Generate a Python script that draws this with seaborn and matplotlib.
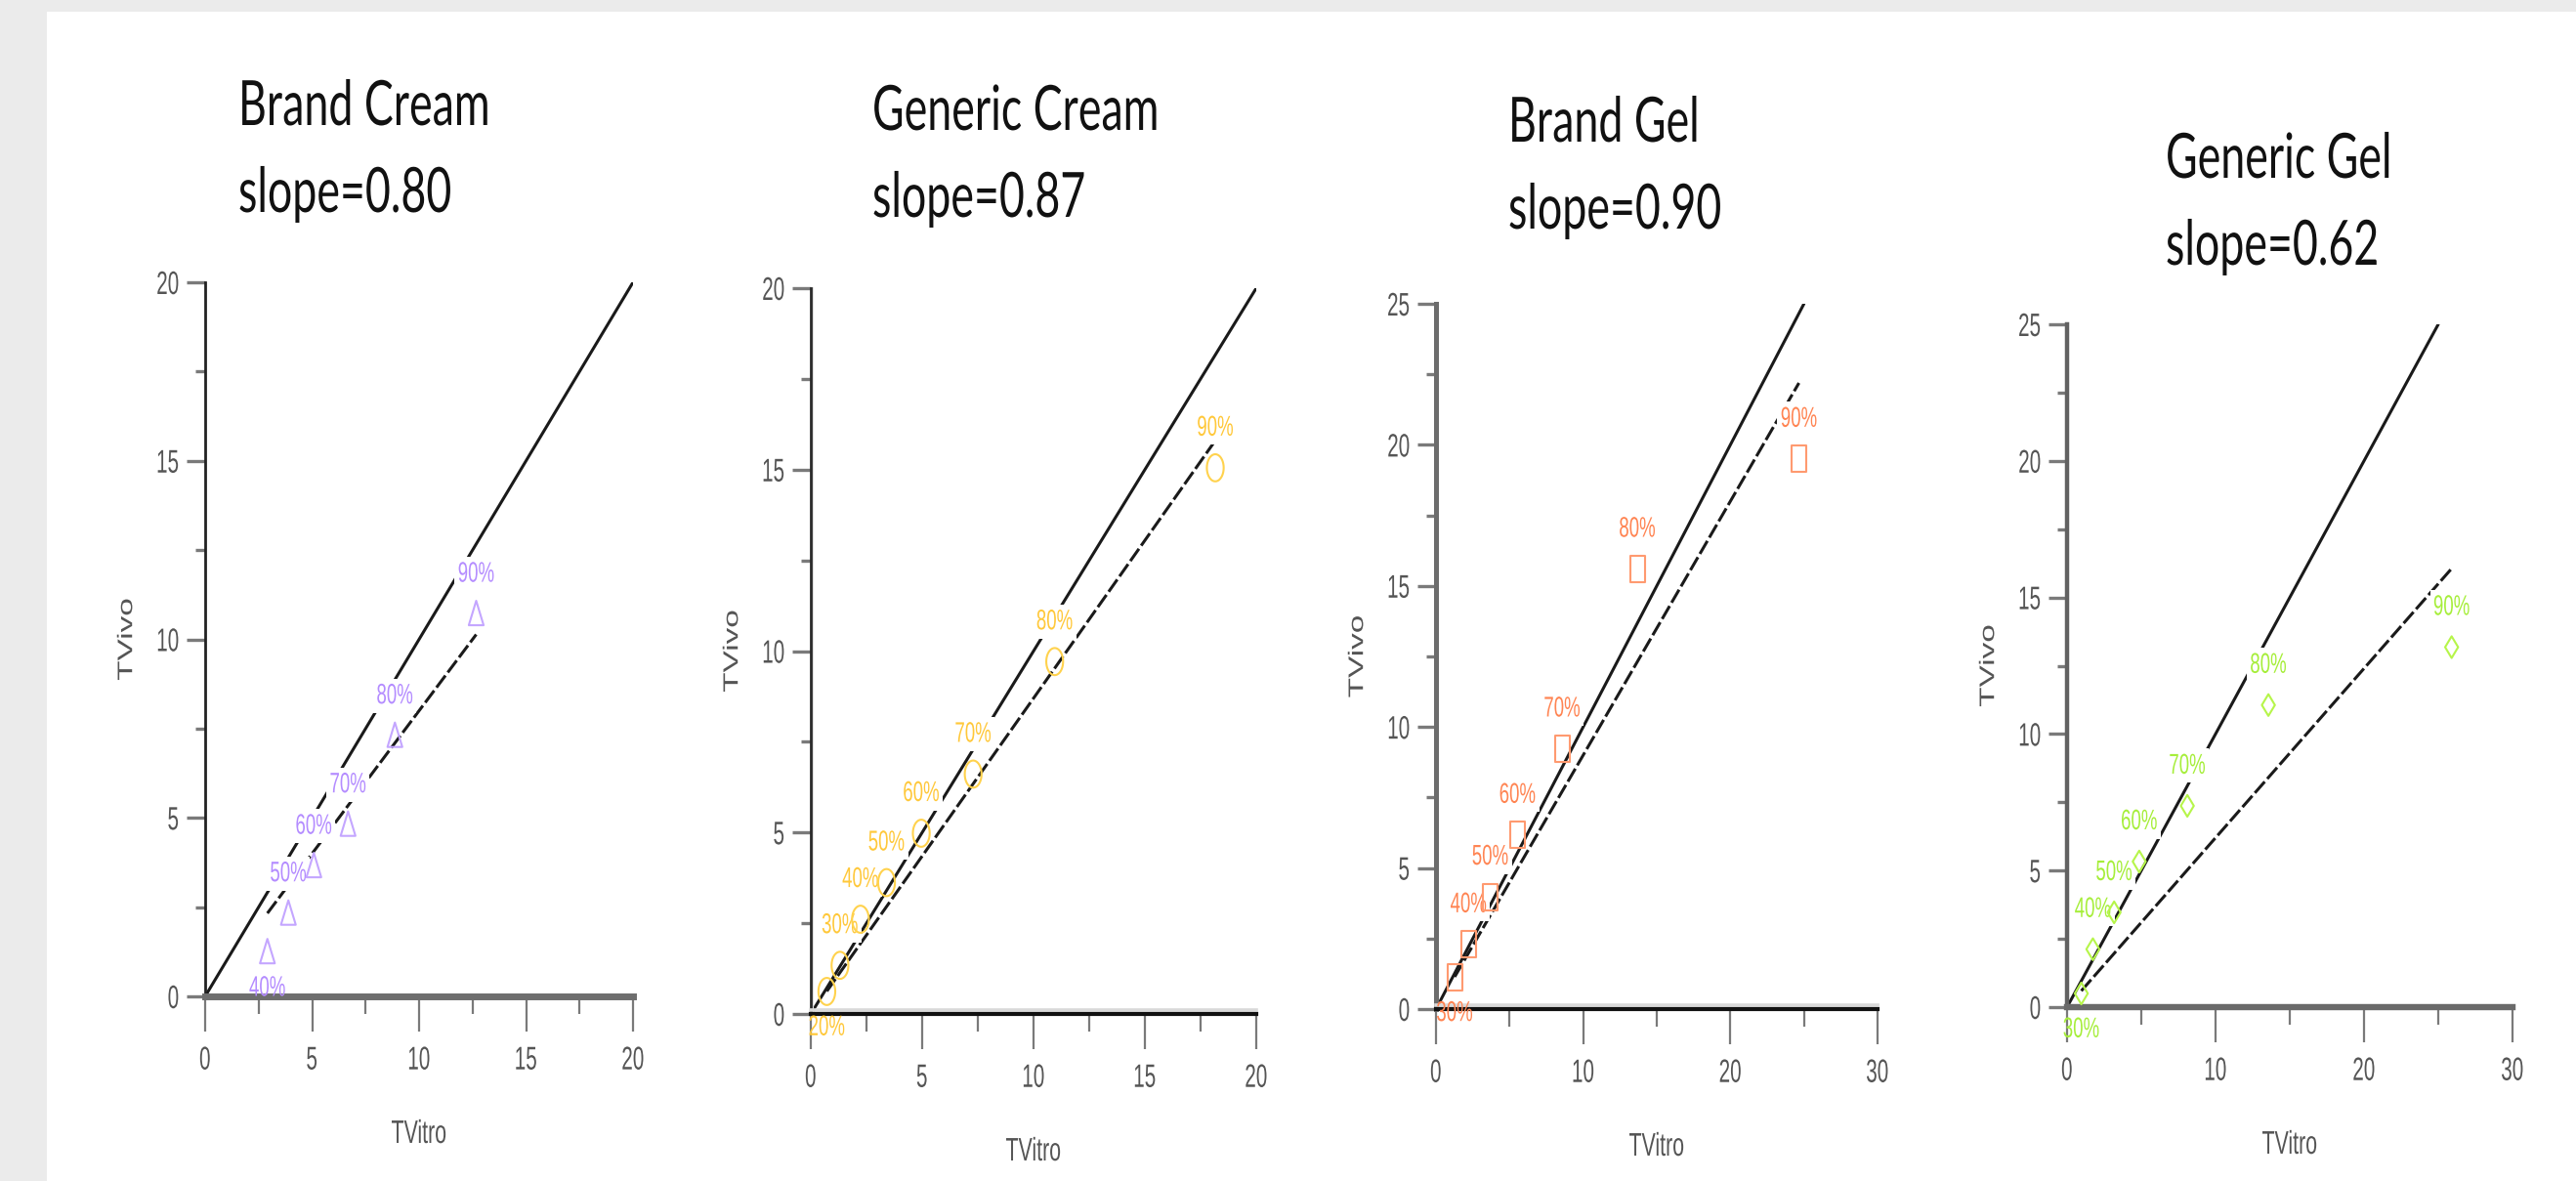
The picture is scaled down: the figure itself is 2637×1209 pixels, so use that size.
import numpy as np
import matplotlib
matplotlib.use("Agg")
import matplotlib.pyplot as plt
import seaborn as sns
from matplotlib.patheffects import AbstractPathEffect, Stroke, Normal
from matplotlib.transforms import Affine2D
from matplotlib.ticker import MultipleLocator
from matplotlib.path import Path
from matplotlib.patches import Rectangle

# ---------------- data ----------------
names = ["Brand Cream", "Generic Cream", "Brand Gel", "Generic Gel"]
slopes = [0.80, 0.87, 0.90, 0.62]

tvitro_brand_cream = [2.91, 3.89, 5.08, 6.68, 8.87, 12.67]
tvivo_brand_cream = [1.24, 2.32, 3.65, 4.81, 7.30, 10.71]
pct_brand_cream = ["40%", "50%", "60%", "70%", "80%", "90%"]

tvitro_generic_cream = [0.72, 1.31, 2.23, 3.40, 4.96, 7.29, 10.95, 18.16]
tvivo_generic_cream = [0.62, 1.34, 2.61, 3.62, 4.98, 6.61, 9.71, 15.05]
pct_generic_cream = ["20%", "30%", "40%", "50%", "60%", "70%", "80%", "90%"]

tvitro_brand_gel = [1.27, 2.21, 3.69, 5.54, 8.57, 13.68, 24.66]
tvivo_brand_gel = [1.13, 2.29, 3.98, 6.17, 9.23, 15.60, 19.50]
pct_brand_gel = ["30%", "40%", "50%", "60%", "70%", "80%", "90%"]

tvitro_generic_gel = [0.96, 1.74, 3.17, 4.86, 8.10, 13.56, 25.90]
tvivo_generic_gel = [0.50, 2.12, 3.47, 5.33, 7.37, 11.06, 13.18]
pct_generic_gel = ["30%", "40%", "50%", "60%", "70%", "80%", "90%"]

x_max = [20, 20, 30, 30]
y_max = [20, 20, 25, 25]
x_step = [5, 5, 10, 10]
y_step = [5, 5, 5, 5]

tvitro = [tvitro_brand_cream, tvitro_generic_cream, tvitro_brand_gel, tvitro_generic_gel]
tvivo = [tvivo_brand_cream, tvivo_generic_cream, tvivo_brand_gel, tvivo_generic_gel]
pcts = [pct_brand_cream, pct_generic_cream, pct_brand_gel, pct_generic_gel]

# ---------------- style ----------------
sns.set_theme(style="white")
plt.rcParams["font.family"] = ["Liberation Sans", "DejaVu Sans"]

W, H = 2637, 1209
marker_col = ["#c4a6ff", "#ffd24d", "#ff9a70", "#b6f54a"]
label_col = ["#b48cff", "#ffc83a", "#ff8452", "#a6ee3a"]
left_spine = [("#222222", 2.0), ("#2a2a2a", 2.0), ("#6c6c6c", 3.6), ("#626262", 3.2)]
bottom_spine = [("#6e6e6e", 5.0), ("#111111", 3.0), ("#111111", 3.0), ("#6a6a6a", 4.6)]
bottom_shadow = [False, True, True, False]
# axes boxes in pixels: left, top, right, bottom
ax_px = [(210, 289, 648, 1020), (830, 295, 1286, 1038),
         (1470, 311, 1922, 1033), (2116, 332, 2572, 1031)]
title_px = [(244, 128), (893, 133), (1544, 145), (2217, 182)]
marker_sizes = [19.5, 20.0, 19.5, 16.0]


def ellipse(a):
    t = np.linspace(0, 2 * np.pi, 41)
    return Path(np.column_stack([a * np.cos(t), np.sin(t)]), closed=True)


marker_paths = [
    Path([(-0.56, -0.85), (0.56, -0.85), (0.0, 1.0), (-0.56, -0.85)], closed=True),
    ellipse(0.62),
    Path([(-0.56, -1), (0.56, -1), (0.56, 1), (-0.56, 1), (-0.56, -1)], closed=True),
    Path([(0, 1), (0.6, 0), (0, -1), (-0.6, 0), (0, 1)], closed=True),
]


class Squeeze(AbstractPathEffect):
    """Compress text horizontally (display x) about an anchor."""

    def __init__(self, sx, anchor="center"):
        super().__init__()
        self.sx = sx
        self.anchor = anchor

    def draw_path(self, renderer, gc, tpath, affine, rgbFace=None):
        pts = affine.transform(tpath.vertices)
        if len(pts):
            x0, x1 = pts[:, 0].min(), pts[:, 0].max()
        else:
            x0 = x1 = 0.0
        a = {"left": x0, "center": 0.5 * (x0 + x1), "right": x1}[self.anchor]
        t = affine + Affine2D().translate(-a, 0).scale(self.sx, 1).translate(a, 0)
        renderer.draw_path(gc, tpath, t, rgbFace)


def squeezed_box(sx, pad):
    def box(x0, y0, width, height, mutation_size):
        cx = x0 + width / 2.0
        w = width * sx
        p = pad * mutation_size
        return Path([(cx - w / 2 - p, y0 - p), (cx + w / 2 + p, y0 - p),
                     (cx + w / 2 + p, y0 + height + p), (cx - w / 2 - p, y0 + height + p),
                     (cx - w / 2 - p, y0 - p)], closed=True)
    return box


SQ_TICK = 0.62
SQ_LAB = 0.64
SQ_TITLE = 0.70

fig = plt.figure(figsize=(W / 100, H / 100), dpi=100, facecolor="#ebebeb")
fig.add_artist(Rectangle((48 / W, 0), 1, (H - 12) / H, transform=fig.transFigure,
                         facecolor="white", edgecolor="none", zorder=-10))

for i in range(4):
    l, t, r, b = ax_px[i]
    ax = fig.add_axes([l / W, 1 - b / H, (r - l) / W, (b - t) / H])
    ax.set_facecolor("none")
    xs = np.array(tvitro[i], dtype=float)
    ys = np.array(tvivo[i], dtype=float)

    # unity line
    u = min(x_max[i], y_max[i])
    sns.lineplot(x=[0, u], y=[0, u], ax=ax, color="#1a1a1a", linewidth=2.2,
                 zorder=2, sort=False)
    # regression line (slope from title)
    xr = np.array([xs.min(), xs.max()])
    sns.lineplot(x=xr, y=slopes[i] * xr, ax=ax, color="#1a1a1a", linewidth=2.2,
                 linestyle=(0, (5, 1.3)), zorder=2, sort=False)

    # markers
    sns.scatterplot(x=xs, y=ys, ax=ax, marker=marker_paths[i],
                    s=marker_sizes[i] ** 2, facecolor="none",
                    edgecolor=marker_col[i], linewidth=1.5, zorder=5)

    # percent labels: first one below its point, the rest above
    for k, (x, y, lab) in enumerate(zip(xs, ys, pcts[i])):
        dy = -26.5 if k == 0 else 29.5
        box = None if k == 0 else dict(boxstyle=squeezed_box(SQ_LAB, 0.12),
                                       facecolor="white", edgecolor="none")
        txt = ax.annotate(lab, xy=(x, y), xytext=(0, dy), textcoords="offset points",
                          ha="center", va="center", fontsize=21, color=label_col[i],
                          zorder=4, bbox=box)
        txt.set_path_effects([Squeeze(SQ_LAB, "center")])

    ax.set_xlim(0, x_max[i])
    ax.set_ylim(0, y_max[i])
    ax.xaxis.set_major_locator(MultipleLocator(x_step[i]))
    ax.xaxis.set_minor_locator(MultipleLocator(x_step[i] / 2))
    ax.yaxis.set_major_locator(MultipleLocator(y_step[i]))
    ax.yaxis.set_minor_locator(MultipleLocator(y_step[i] / 2))
    ax.tick_params(axis="x", which="major", direction="out", length=26, width=1.6,
                   color="#7a7a7a", labelsize=24, labelcolor="#555555", pad=10.5,
                   bottom=True)
    ax.tick_params(axis="x", which="minor", direction="out", length=13, width=1.6,
                   color="#7a7a7a", bottom=True)
    ax.tick_params(axis="y", which="major", direction="out", length=14, width=2.4,
                   color="#7a7a7a", labelsize=24, labelcolor="#555555", pad=5,
                   left=True)
    ax.tick_params(axis="y", which="minor", direction="out", length=7, width=2.4,
                   color="#7a7a7a", left=True)
    ax.grid(False)

    for sp in ["top", "right"]:
        ax.spines[sp].set_visible(False)
    c, lw = left_spine[i]
    ax.spines["left"].set_color(c)
    ax.spines["left"].set_linewidth(lw)
    c, lw = bottom_spine[i]
    ax.spines["bottom"].set_color(c)
    ax.spines["bottom"].set_linewidth(lw)
    ax.spines["bottom"].set_zorder(3)
    ax.spines["left"].set_zorder(3)
    if bottom_shadow[i]:
        ax.spines["bottom"].set_path_effects(
            [Stroke(offset=(0, 2.6), linewidth=2.6, foreground="#d9d9d9"), Normal()])
        ax.spines["left"].set_path_effects(
            [Stroke(offset=(1.5, 0), linewidth=1.5, foreground="#dedede"), Normal()])

    ax.set_xlabel("TVitro", fontsize=24, color="#555555")
    ax.set_ylabel("TVivo", fontsize=24, color="#555555")
    ax.xaxis.set_label_coords(0.5, -126 / (b - t))
    ax.yaxis.set_label_coords(-79 / (r - l), 0.5)
    ax.yaxis.label.set_va("center")
    ax.xaxis.label.set_path_effects([Squeeze(SQ_LAB, "center")])
    ax.yaxis.label.set_path_effects([Squeeze(SQ_LAB, "center")])

    for tk in ax.xaxis.get_major_ticks():
        tk.label1.set_path_effects([Squeeze(SQ_TICK, "center")])
    for tk in ax.yaxis.get_major_ticks():
        tk.label1.set_path_effects([Squeeze(SQ_TICK, "right")])

    # titles
    tx, ty = title_px[i]
    t1 = fig.text(tx / W, 1 - ty / H, names[i], ha="left", va="baseline",
                  fontsize=46, color="#111111", family=["Lato", "DejaVu Sans"])
    t2 = fig.text(tx / W, 1 - (ty + 89) / H, f"slope={slopes[i]:.2f}", ha="left",
                  va="baseline", fontsize=46, color="#111111",
                  family=["Lato", "DejaVu Sans"])
    t1.set_path_effects([Squeeze(SQ_TITLE, "left")])
    t2.set_path_effects([Squeeze(SQ_TITLE, "left")])

fig.savefig("out.png", dpi=100, facecolor=fig.get_facecolor())
